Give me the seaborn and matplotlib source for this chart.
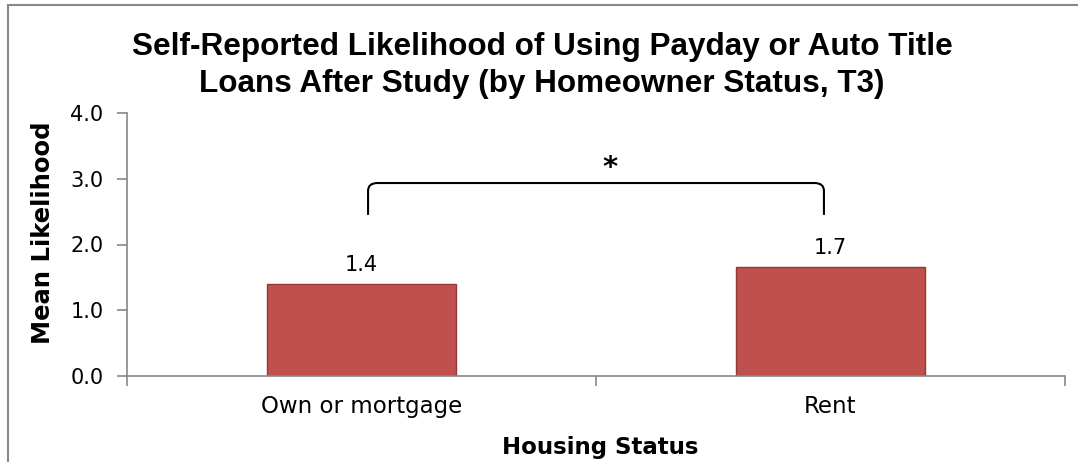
import matplotlib
matplotlib.use("Agg")
import matplotlib.pyplot as plt
import matplotlib.patches as mpatches
from matplotlib.path import Path
import seaborn as sns
import pandas as pd

# Data
categories = ["Own or mortgage", "Rent"]
mean_likelihood = [1.40, 1.66]
y_ticks = [0.0, 1.0, 2.0, 3.0, 4.0]
significance_mark = "*"
title_lines = ["Self-Reported Likelihood of Using Payday or Auto Title",
               "Loans After Study (by Homeowner Status, T3)"]

sns.set_theme(style="white")
plt.rcParams["font.family"] = ["DejaVu Sans"]
plt.rcParams["text.color"] = "black"
plt.rcParams["axes.labelcolor"] = "black"
plt.rcParams["xtick.color"] = "black"
plt.rcParams["ytick.color"] = "black"

W, H = 1078, 462
df = pd.DataFrame({"Housing Status": categories, "Mean Likelihood": mean_likelihood})

fig = plt.figure(figsize=(W / 100, H / 100), dpi=100)
ax = fig.add_axes([127 / W, 1 - 376 / H, (1065 - 127) / W, (376 - 113) / H])

sns.barplot(data=df, x="Housing Status", y="Mean Likelihood", ax=ax,
            color="#C0504D", saturation=1, width=0.403,
            edgecolor="#8E3A38", linewidth=1.0)

# Value labels above bars
for i, v in enumerate(mean_likelihood):
    ax.text(i, v + 0.19, f"{v:.1f}", ha="center", va="baseline", fontsize=15, color="black")

ax.set_xlim(-0.5, 1.5)
ax.set_ylim(0, 4.0)
ax.set_yticks(y_ticks)
ax.set_yticklabels([f"{t:.1f}" for t in y_ticks], fontsize=15)

# Category labels without tick marks; boundary ticks as minor ticks
ax.set_xticks(range(len(categories)))
ax.set_xticklabels(categories, fontsize=16.5)
ax.tick_params(axis="x", which="major", length=0, pad=14, colors="black")
ax.set_xticks([-0.5, 0.5, 1.5], minor=True)
ax.tick_params(axis="x", which="minor", length=7, width=1.2, color="#888888", direction="out", bottom=True)
ax.tick_params(axis="y", which="major", length=7, width=1.2, color="#888888", labelcolor="black",
               direction="out", left=True, pad=10)

for side in ["top", "right"]:
    ax.spines[side].set_visible(False)
for side in ["left", "bottom"]:
    ax.spines[side].set_color("#888888")
    ax.spines[side].set_linewidth(1.2)

ax.set_xlabel("Housing Status", fontsize=16.5, fontweight="bold")
ax.xaxis.set_label_coords(0.505, -0.228)
ax.xaxis.label.set_va("top")
ax.set_ylabel("Mean Likelihood", fontsize=17.5, fontweight="bold")
ax.yaxis.set_label_coords(-0.077, 0.545)

# Two-line title
fig.text(0.503, 1 - 55 / H, title_lines[0], ha="center", va="baseline",
         fontsize=22.7, fontweight="bold", family=["Liberation Sans", "DejaVu Sans"])
fig.text(0.503, 1 - 92 / H, title_lines[1], ha="center", va="baseline",
         fontsize=22.7, fontweight="bold", family=["Liberation Sans", "DejaVu Sans"])

# Significance bracket
x0, x1 = 0.014, 0.986
ylo, yhi = 2.45, 2.935
r = 0.02
verts = [(x0, ylo), (x0, yhi - 0.12), (x0, yhi), (x0 + r, yhi),
         (x1 - r, yhi), (x1, yhi), (x1, yhi - 0.12), (x1, ylo)]
codes = [Path.MOVETO, Path.LINETO, Path.CURVE3, Path.CURVE3,
         Path.LINETO, Path.CURVE3, Path.CURVE3, Path.LINETO]
ax.add_patch(mpatches.PathPatch(Path(verts, codes), fill=False, edgecolor="black", lw=1.5, clip_on=False))
ax.text(0.53, 3.17, significance_mark, ha="center", va="center", fontsize=21, fontweight="bold")

# Figure frame
fig.patches.append(mpatches.Rectangle((7.5 / W, -0.1), 1.2, (H - 4.5) / H + 0.1,
                                      transform=fig.transFigure, fill=False,
                                      edgecolor="#888888", linewidth=1.5))

fig.savefig("out.png", dpi=100)
